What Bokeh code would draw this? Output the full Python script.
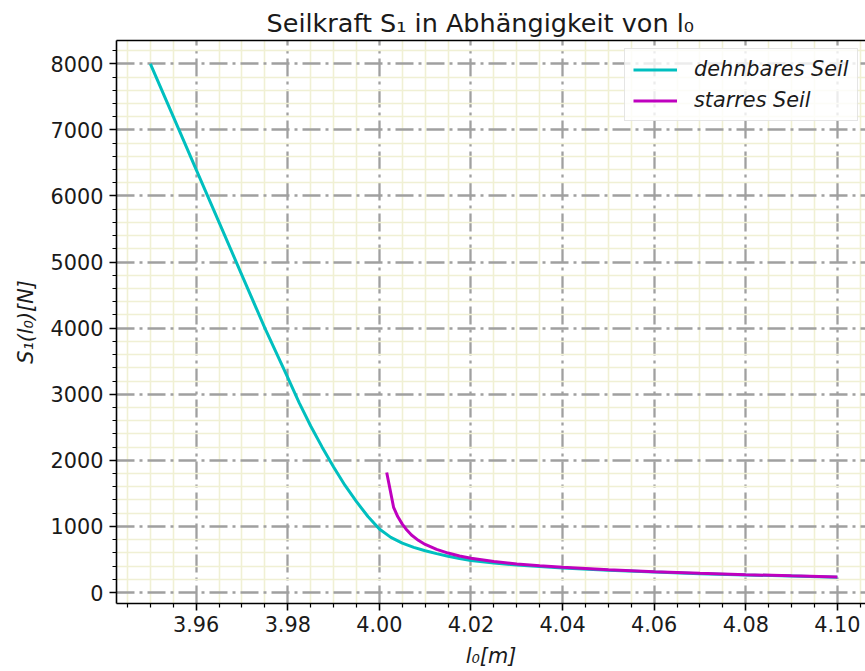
from bokeh.plotting import figure
from bokeh.models import (Range1d, FixedTicker, NumeralTickFormatter, Legend, LegendItem,
                          LinearAxis)
from bokeh.embed import file_html
from bokeh.resources import INLINE

# ---------------- data ----------------
l0_dehnbar = [3.9500, 3.9550, 3.9600, 3.9650, 3.9700, 3.9750, 3.9800, 3.9825, 3.9850,
              3.9875, 3.9900, 3.9925, 3.9950, 3.9975, 4.0000, 4.0025, 4.0050, 4.0075,
              4.0100, 4.0125, 4.0150, 4.0175, 4.0200, 4.0250, 4.0300, 4.0350, 4.0400,
              4.0500, 4.0600, 4.0700, 4.0800, 4.0900, 4.1000]
S_dehnbar = [8000, 7200, 6400, 5600, 4800, 4000, 3250, 2870, 2520,
             2200, 1900, 1620, 1375, 1150, 960, 835, 748, 684,
             633, 589, 549, 515, 485, 445, 415, 392, 372,
             338, 309, 286, 266, 249, 233]

l0_starr = [4.0016, 4.0031, 4.0040, 4.0050, 4.0060, 4.0070, 4.0085, 4.0100, 4.0125,
            4.0150, 4.0175, 4.0200, 4.0250, 4.0300, 4.0350, 4.0400, 4.0500, 4.0600,
            4.0700, 4.0800, 4.0900, 4.1000]
S_starr = [1815, 1290, 1150, 1035, 945, 870, 790, 728, 652,
           597, 553, 518, 469, 432, 404, 382, 345, 315,
           291, 270, 252, 236]

x_ticks = [3.96, 3.98, 4.00, 4.02, 4.04, 4.06, 4.08, 4.10]
x_minor = [3.945, 3.950, 3.955, 3.965, 3.970, 3.975, 3.985, 3.990, 3.995,
           4.005, 4.010, 4.015, 4.025, 4.030, 4.035, 4.045, 4.050, 4.055,
           4.065, 4.070, 4.075, 4.085, 4.090, 4.095, 4.105]
y_ticks = [0, 1000, 2000, 3000, 4000, 5000, 6000, 7000, 8000]
y_minor = [200, 400, 600, 800, 1200, 1400, 1600, 1800, 2200, 2400, 2600, 2800,
           3200, 3400, 3600, 3800, 4200, 4400, 4600, 4800, 5200, 5400, 5600, 5800,
           6200, 6400, 6600, 6800, 7200, 7400, 7600, 7800, 8200]

series_labels = ["dehnbares Seil", "starres Seil"]
series_colors = ["#00bfbf", "#bf00bf"]

title_text = "Seilkraft S\u2081 in Abhängigkeit von l\u2080"
x_label = "l\u2080[m]"
y_label = "S\u2081(l\u2080)[N]"

# ---------------- layout ----------------
X0, X1 = 3.9426, 4.10614
Y0, Y1 = -166.0, 8352.4
FONT = "DejaVu Sans"
FS = "20.8px"

p = figure(width=865, height=671, x_range=Range1d(X0, X1), y_range=Range1d(Y0, Y1),
           output_backend="svg", toolbar_location=None,
           min_border_left=116, min_border_right=0, min_border_top=40, min_border_bottom=68)
p.outline_line_color = None
p.background_fill_color = "white"
p.border_fill_color = "white"

# title
p.title.text = title_text
p.title.text_font = FONT
p.title.text_font_size = "25.5px"
p.title.text_font_style = "normal"
p.title.text_color = "#1a1a1a"
p.title.align = "left"
p.title.offset = 150
p.title.standoff = 6

# axes
for ax, ticks, minor, fmt in ((p.xaxis[0], x_ticks, x_minor, "0.00"),
                              (p.yaxis[0], y_ticks, y_minor, "0")):
    ax.ticker = FixedTicker(ticks=ticks, minor_ticks=minor)
    ax.formatter = NumeralTickFormatter(format=fmt)
    ax.major_label_text_font = FONT
    ax.major_label_text_font_size = FS
    ax.major_label_text_color = "#1a1a1a"
    ax.axis_line_color = "black"
    ax.axis_line_width = 1.6
    ax.major_tick_in = 0
    ax.major_tick_out = 7
    ax.minor_tick_in = 0
    ax.minor_tick_out = 4
    ax.major_tick_line_width = 1.6
    ax.minor_tick_line_width = 1.2
    ax.major_tick_line_color = "black"
    ax.minor_tick_line_color = "black"
    ax.major_label_standoff = 6
    ax.axis_label_text_font = FONT
    ax.axis_label_text_font_size = FS
    ax.axis_label_text_font_style = "italic"
    ax.axis_label_text_color = "#1a1a1a"

p.xaxis[0].major_label_standoff = 5
p.xaxis[0].axis_label = x_label
p.xaxis[0].axis_label_standoff = 9
p.yaxis[0].axis_label = y_label
p.yaxis[0].axis_label_standoff = 10

top = LinearAxis(ticker=FixedTicker(ticks=[]), axis_line_width=1.6, axis_line_color="black",
                 major_tick_line_color=None, minor_tick_line_color=None,
                 major_label_text_font_size="0px")
p.add_layout(top, "above")

# grids
for g, ticks, minor in ((p.xgrid[0], x_ticks, x_minor), (p.ygrid[0], y_ticks, y_minor)):
    g.ticker = FixedTicker(ticks=ticks, minor_ticks=minor)
    g.grid_line_color = "#a0a0a0"
    g.grid_line_width = 2.3
    g.grid_line_dash = "18 5 3 5"
    g.minor_grid_line_color = "#f0f0d4"
    g.minor_grid_line_width = 1.6

# curves
r1 = p.line(l0_dehnbar, S_dehnbar, line_color=series_colors[0], line_width=3)
r2 = p.line(l0_starr, S_starr, line_color=series_colors[1], line_width=3)

legend = Legend(items=[LegendItem(label=series_labels[0], renderers=[r1]),
                       LegendItem(label=series_labels[1], renderers=[r2])],
                location=(508, 482), orientation="vertical",
                padding=8, spacing=7, margin=0,
                glyph_width=44, glyph_height=21, label_height=21, label_standoff=17,
                label_text_font=FONT, label_text_font_size=FS,
                label_text_font_style="italic", label_text_color="#1a1a1a",
                border_line_color="#cccccc", border_line_width=1.6,
                background_fill_color="white", background_fill_alpha=0.8)
p.add_layout(legend)

open("out.html", "w").write(file_html(p, INLINE))
